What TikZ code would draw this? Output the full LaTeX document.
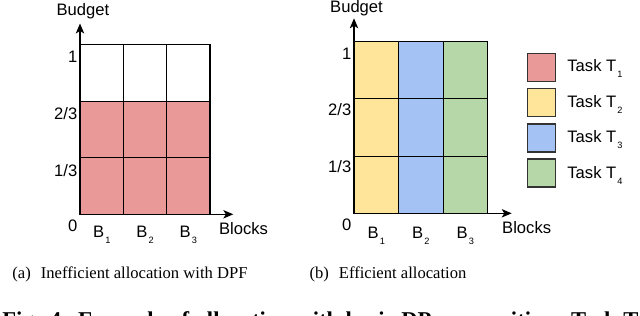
\documentclass[tikz,border=0pt]{standalone}
\usepackage{fontspec}
\setmainfont{Liberation Serif}
\setsansfont{Liberation Sans}
\usepackage{xcolor}
\usepackage{tikz}
\usetikzlibrary{positioning,arrows.meta}

\definecolor{taskone}{HTML}{EA9999}
\definecolor{tasktwo}{HTML}{FFE599}
\definecolor{taskthree}{HTML}{A4C2F4}
\definecolor{taskfour}{HTML}{B6D7A8}
\newcommand{\lowsub}[1]{\hspace{0.6pt}\raisebox{-3.1pt}{\fontsize{4.6}{5}\selectfont #1}}

\begin{document}
\begin{tikzpicture}[
  x=0.5pt, y=-0.5pt,
  node distance=0pt,
  cell/.style={draw, line width=0.55pt, inner sep=0pt, outer sep=0pt},
  cella/.style={cell, minimum width=21.67pt, minimum height=28.3pt},
  cellb/.style={cell, minimum width=22.28pt, minimum height=28.6pt},
  axis/.style={-{Stealth[length=5pt, width=4.2pt, inset=1.3pt]}, line width=0.6pt},
  lbl/.style={font=\sffamily\fontsize{8.3}{10}\selectfont, inner sep=0pt},
  tick/.style={lbl, anchor=base east},
  blk/.style={lbl, anchor=base},
  key/.style={draw=black!80, line width=0.75pt, inner sep=0pt, outer sep=0pt, minimum width=14pt, minimum height=14pt},
  subcap/.style={font=\fontsize{8.3}{10}\selectfont, inner sep=0pt, anchor=base}
]
\useasboundingbox (0,0) rectangle (640,315);
\clip (0,0) rectangle (640,315);

% (a) inefficient allocation
\coordinate (oa) at (80,214.3);
\coordinate (ya) at (80,23.5);
\coordinate (xa) at (233.3,214.3);
\node[cella, fill=taskone, anchor=south west] (a11) at (oa) {};
\node[cella, fill=taskone, right=of a11] (a12) {};
\node[cella, fill=taskone, right=of a12] (a13) {};
\node[cella, fill=taskone, above=of a11] (a21) {};
\node[cella, fill=taskone, right=of a21] (a22) {};
\node[cella, fill=taskone, right=of a22] (a23) {};
\node[cella, above=of a21] (a31) {};
\node[cella, right=of a31] (a32) {};
\node[cella, right=of a32] (a33) {};
\draw[axis] (oa) -- (ya);
\draw[axis] (oa) -- (xa);
\node[lbl, anchor=base] (budgeta) at (82.9,15.7) {Budget};
\node[tick] (zeroa) at (77.7,231.3) {0};
\node[tick] (thirda) at (77.7,176.8) {1/3};
\node[tick] (twothirda) at (77.7,119.5) {2/3};
\node[tick] (onea) at (77.7,62.7) {1};
\node[blk] (ba1) at (101.7,237) {B\lowsub{1}};
\node[blk] (ba2) at (145,237) {B\lowsub{2}};
\node[blk] (ba3) at (188.3,237) {B\lowsub{3}};
\node[lbl, anchor=base west] (blocksa) at (218.7,234) {Blocks};
\node[subcap] (capa) at (130,278) {(a)\hspace{0.6em}Inefficient allocation with DPF};

% (b) efficient allocation
\coordinate (ob) at (354,213.3);
\coordinate (yb) at (354,18.3);
\coordinate (xb) at (511.7,213.3);
\node[cellb, fill=tasktwo, anchor=south west] (b11) at (ob) {};
\node[cellb, fill=taskthree, right=of b11] (b12) {};
\node[cellb, fill=taskfour, right=of b12] (b13) {};
\node[cellb, fill=tasktwo, above=of b11] (b21) {};
\node[cellb, fill=taskthree, right=of b21] (b22) {};
\node[cellb, fill=taskfour, right=of b22] (b23) {};
\node[cellb, fill=tasktwo, above=of b21] (b31) {};
\node[cellb, fill=taskthree, right=of b31] (b32) {};
\node[cellb, fill=taskfour, right=of b32] (b33) {};
\draw[axis] (ob) -- (yb);
\draw[axis] (ob) -- (xb);
\node[lbl, anchor=base] (budgetb) at (356.5,12.5) {Budget};
\node[tick] (zerob) at (351.7,230) {0};
\node[tick] (thirdb) at (351.7,172) {1/3};
\node[tick] (twothirdb) at (351.7,115.5) {2/3};
\node[tick] (oneb) at (351.7,59.5) {1};
\node[blk] (bb1) at (376.3,238) {B\lowsub{1}};
\node[blk] (bb2) at (420.8,238) {B\lowsub{2}};
\node[blk] (bb3) at (465.4,238) {B\lowsub{3}};
\node[lbl, anchor=base west] (blocksb) at (501.8,233.3) {Blocks};
\node[subcap] (capb) at (388,278) {(b)\hspace{0.6em}Efficient allocation};

% legend
\node[key, fill=taskone, anchor=north west] (k1) at (527.6,53.5) {};
\node[key, fill=tasktwo, below=3.6pt of k1] (k2) {};
\node[key, fill=taskthree, below=3.6pt of k2] (k3) {};
\node[key, fill=taskfour, below=3.6pt of k3] (k4) {};
\node[lbl, anchor=base west] (t1) at (567,71.7) {Task T\lowsub{1}};
\node[lbl, anchor=base west] (t2) at (567,107.2) {Task T\lowsub{2}};
\node[lbl, anchor=base west] (t3) at (567,142.7) {Task T\lowsub{3}};
\node[lbl, anchor=base west] (t4) at (567,178.2) {Task T\lowsub{4}};

% figure caption, cut at the lower edge
\node[font=\bfseries\fontsize{11.3}{13}\selectfont, inner sep=0pt, anchor=north west] (figcap) at (2,311.5)
  {\makebox[318pt][s]{Fig. 4: Example of allocation with basic DP composition. Task T}};
\end{tikzpicture}
\end{document}
